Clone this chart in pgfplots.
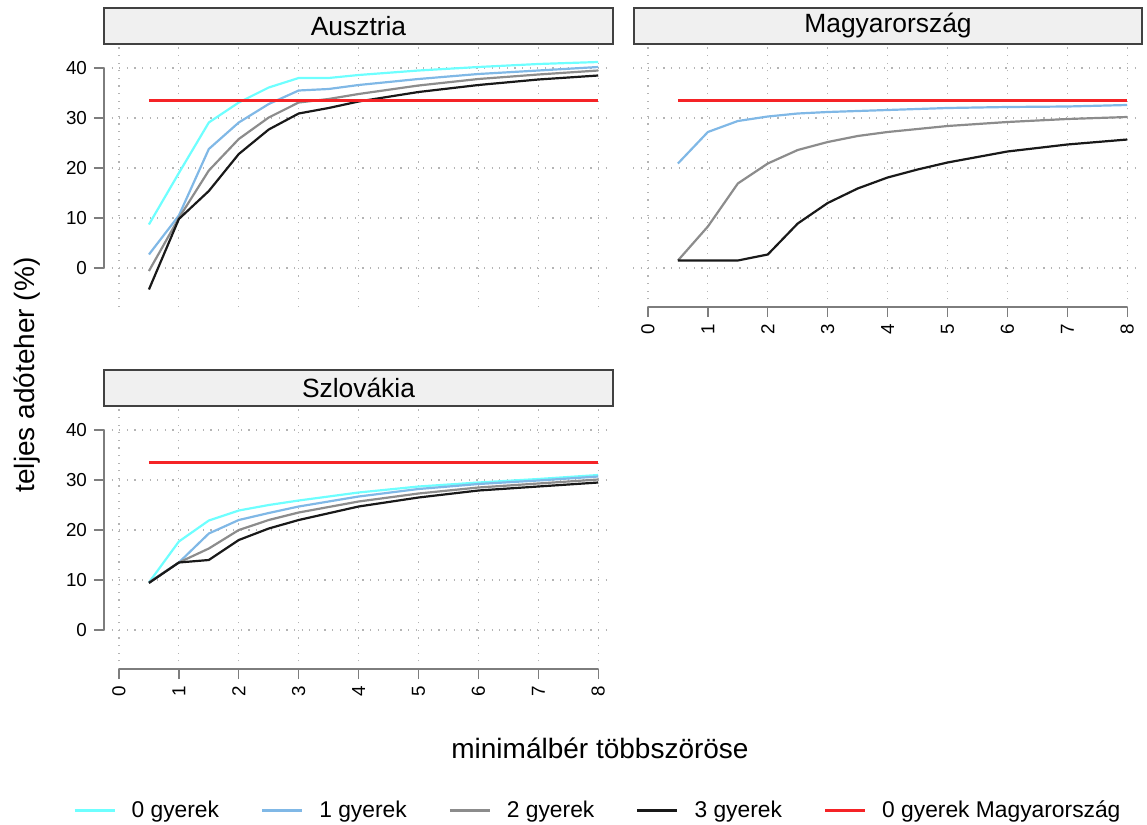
\documentclass[border=0pt]{standalone}
\usepackage{pgfplots}
\pgfplotsset{compat=1.18}
\usepackage{fontspec}
\setmainfont{Liberation Sans}
\definecolor{c0}{RGB}{110,255,255}
\definecolor{c1}{RGB}{128,184,230}
\definecolor{c2}{RGB}{140,140,140}
\definecolor{c3}{RGB}{25,25,25}
\definecolor{cr}{RGB}{245,35,38}
\definecolor{gridc}{RGB}{180,180,180}
\definecolor{axc}{RGB}{125,125,125}
\definecolor{stripf}{RGB}{240,240,240}
\definecolor{stripd}{RGB}{65,65,65}
\pgfplotsset{
 panel/.style={
  scale only axis, width=253.1pt, height=130.5pt,
  xmin=-0.25, xmax=8.2, ymin=-7.8, ymax=44.4,
  xtick={0,...,8}, ytick={0,10,...,40},
  grid=major,
  major grid style={gridc, line width=0.6pt, dash pattern=on 0.6pt off 3.2pt},
  axis x line*=bottom, axis y line*=left,
  axis line style={draw=none},
  tick align=outside, major tick length=5pt,
  tick style={axc, line width=0.7pt},
  tick label style={font=\fontsize{9.4}{11}\selectfont, black},
  /pgf/number format/assume math mode=true,
  xticklabel style={rotate=90, anchor=east},
  clip=false,
  every axis plot/.append style={line width=1.1pt, no markers},
 },
 s0/.style={c0}, s1/.style={c1}, s2/.style={c2}, s3/.style={c3}, sr/.style={cr, line width=1.3pt},
}
\begin{document}
\begin{tikzpicture}
\path[use as bounding box] (0pt,0pt) rectangle (573.5pt,-412.5pt);
% Ausztria
\begin{axis}[panel, at={(52pt,-153.5pt)}, anchor=south west, xmajorticks=false, xticklabels={}]
\addplot[s0] coordinates {(0.5,8.7) (1,19) (1.5,29.1) (2,33.1) (2.5,36.1) (3,38.0) (3.5,38.0) (4,38.6) (5,39.5) (6,40.2) (7,40.8) (8,41.2)};
\addplot[s1] coordinates {(0.5,2.7) (1,10.5) (1.5,23.8) (2,29.1) (2.5,32.8) (3,35.5) (3.5,35.8) (4,36.6) (5,37.8) (6,38.8) (7,39.5) (8,40.2)};
\addplot[s2] coordinates {(0.5,-0.6) (1,10.0) (1.5,19.5) (2,25.8) (2.5,30.1) (3,33.1) (3.5,33.8) (4,34.8) (5,36.5) (6,37.8) (7,38.7) (8,39.5)};
\addplot[s3] coordinates {(0.5,-4.3) (1,9.8) (1.5,15.4) (2,22.8) (2.5,27.7) (3,30.9) (3.5,32.0) (4,33.3) (5,35.2) (6,36.6) (7,37.7) (8,38.5)};
\addplot[sr] coordinates {(0.5,33.5) (8,33.5)};
\draw[axc, line width=0.7pt] (axis cs:-0.25,0) -- (axis cs:-0.25,40);
\end{axis}
% Magyarorszag
\begin{axis}[panel, at={(316.5pt,-153.5pt)}, anchor=south west, ymajorticks=false, yticklabels={}]
\addplot[s0] coordinates {(0.5,33.5) (8,33.5)};
\addplot[s1] coordinates {(0.5,20.9) (1,27.2) (1.5,29.4) (2,30.3) (2.5,30.9) (3,31.2) (4,31.6) (5,32.0) (6,32.2) (7,32.3) (8,32.6)};
\addplot[s2] coordinates {(0.5,1.5) (1,8.3) (1.5,16.9) (2,20.9) (2.5,23.6) (3,25.2) (3.5,26.4) (4,27.2) (5,28.4) (6,29.2) (7,29.8) (8,30.2)};
\addplot[s3] coordinates {(0.5,1.5) (1,1.5) (1.5,1.5) (2,2.7) (2.5,8.9) (3,13.0) (3.5,15.9) (4,18.1) (4.5,19.7) (5,21.1) (6,23.3) (7,24.7) (8,25.7)};
\addplot[sr] coordinates {(0.5,33.5) (8,33.5)};
\draw[axc, line width=0.7pt] (axis cs:0,-7.8) -- (axis cs:8,-7.8);
\end{axis}
% Szlovakia
\begin{axis}[panel, at={(52pt,-334.5pt)}, anchor=south west,
  legend columns=5,
  legend style={at={(0.975,-0.544)}, anchor=center, draw=none, fill=none,
    font=\fontsize{11.4}{13}\selectfont,
    nodes={inner sep=0.8pt},
    /tikz/every odd column/.append style={column sep=7pt},
    /tikz/every even column/.append style={column sep=20pt}},
  legend image code/.code={\draw[#1, line width=1.5pt] (0pt,0pt) -- (20pt,0pt);}]
\addplot[s0] coordinates {(0.5,9.5) (1,17.7) (1.5,21.9) (2,23.9) (2.5,25.0) (3,25.9) (3.5,26.7) (4,27.5) (5,28.7) (6,29.5) (7,30.2) (8,31.0)};
\addlegendentry{0 gyerek}
\addplot[s1] coordinates {(0.5,9.5) (1,13.5) (1.5,19.3) (2,22.0) (2.5,23.4) (3,24.7) (4,26.7) (5,28.2) (6,29.2) (7,29.9) (8,30.7)};
\addlegendentry{1 gyerek}
\addplot[s2] coordinates {(0.5,9.5) (1,13.5) (1.5,16.3) (2,20.0) (2.5,22.0) (3,23.5) (4,25.7) (5,27.3) (6,28.5) (7,29.3) (8,30.1)};
\addlegendentry{2 gyerek}
\addplot[s3] coordinates {(0.5,9.4) (1,13.5) (1.5,14.0) (2,18.0) (2.5,20.3) (3,22.0) (4,24.7) (5,26.5) (6,27.9) (7,28.7) (8,29.5)};
\addlegendentry{3 gyerek}
\addplot[sr] coordinates {(0.5,33.5) (8,33.5)};
\addlegendentry{0 gyerek Magyarország}
\draw[axc, line width=0.7pt] (axis cs:-0.25,0) -- (axis cs:-0.25,40);
\draw[axc, line width=0.7pt] (axis cs:0,-7.8) -- (axis cs:8,-7.8);
\end{axis}
\begin{scope}[x=0.5pt, y=-0.5pt]
\draw[stripd, line width=1.1pt, fill=stripf] (104,8) rectangle (613,44);
\node[font=\fontsize{13.2}{15}\selectfont] at (358.5,26) {Ausztria};
\draw[stripd, line width=1.1pt, fill=stripf] (634,8) rectangle (1142,44);
\node[font=\fontsize{13.2}{15}\selectfont] at (888,26) {Magyarország};
\draw[stripd, line width=1.1pt, fill=stripf] (104,370) rectangle (613,406);
\node[font=\fontsize{13.2}{15}\selectfont] at (358.5,388) {Szlovákia};
\node[font=\fontsize{14}{16}\selectfont] at (600,748) {minimálbér többszöröse};
\node[font=\fontsize{14}{16}\selectfont, rotate=90] at (27,375) {teljes adóteher (\%)};
\end{scope}
\end{tikzpicture}
\end{document}
